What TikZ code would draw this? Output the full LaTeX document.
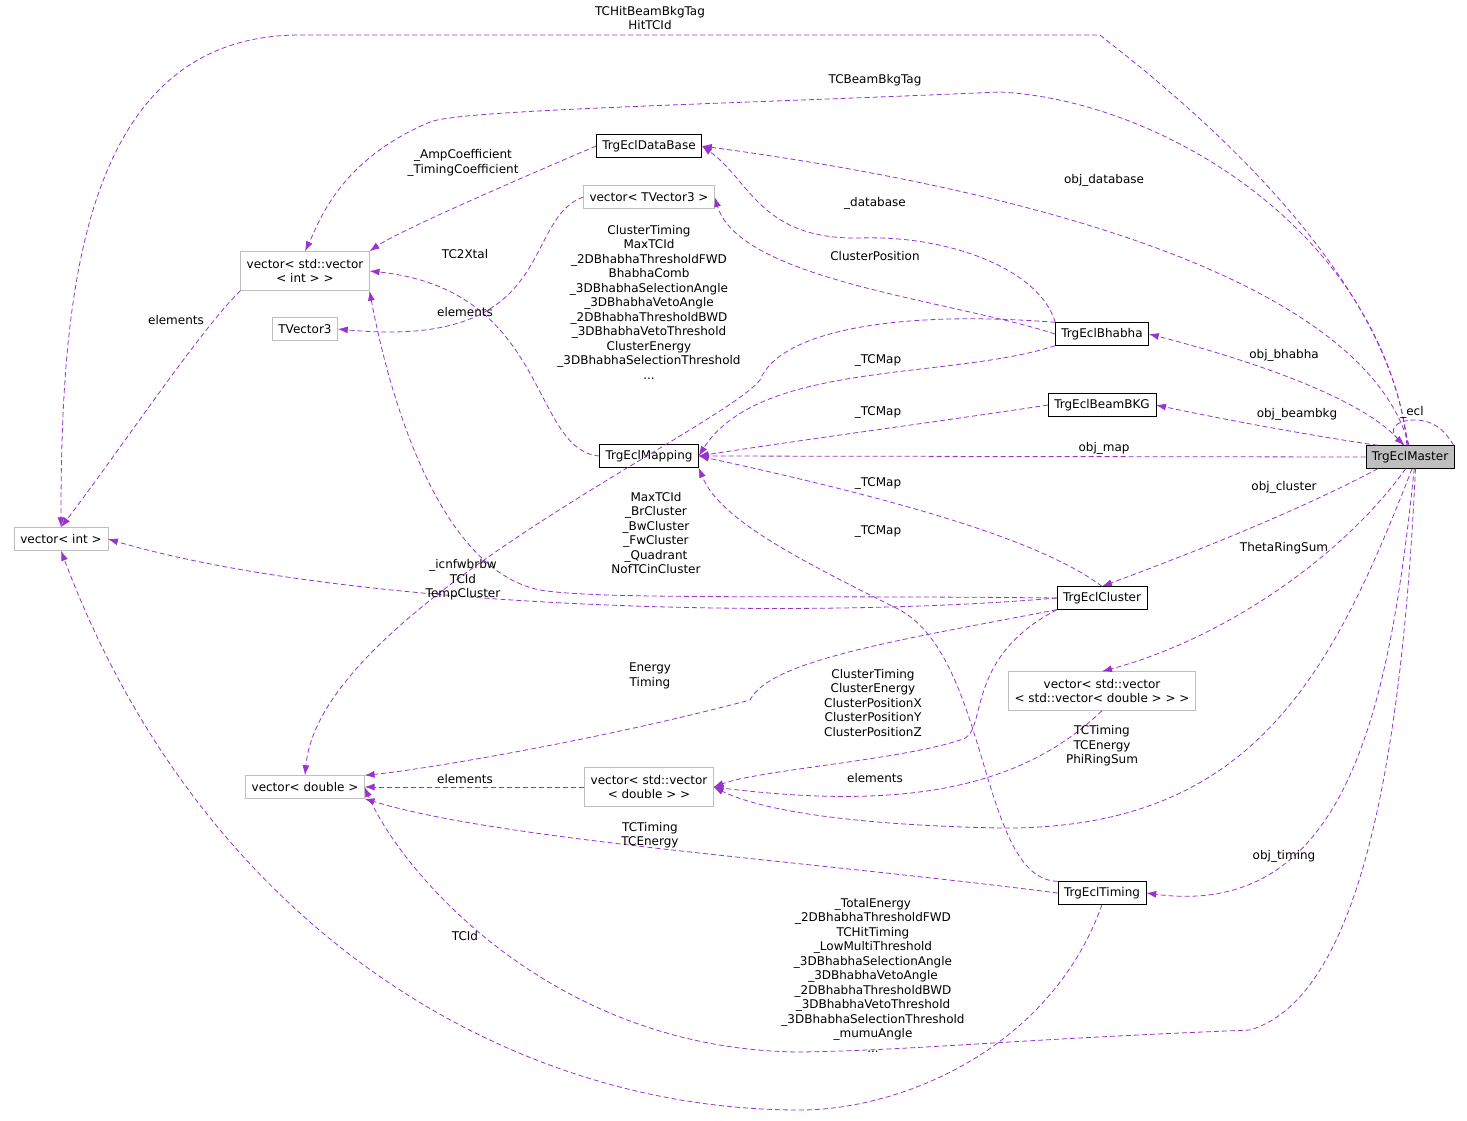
\documentclass[tikz,border=0pt]{standalone}
\usepackage{fontspec}
\setmainfont{DejaVu Sans}
\usetikzlibrary{arrows.meta}
\definecolor{edgecol}{HTML}{9A32CD}
\definecolor{greybd}{HTML}{BFBFBF}
\begin{document}
\begin{tikzpicture}[x=1pt,y=-1pt,
  font=\fontsize{12}{14.5}\selectfont,
  cls/.style={draw=black,rectangle,inner xsep=6pt,inner ysep=0pt,minimum height=23pt,align=center,fill=white},
  ext/.style={cls,draw=greybd},
  rel/.style={draw=edgecol,dashed,dash pattern=on 5pt off 3pt,line width=0.8pt,-{Latex[length=10pt,width=7pt]}},
  lab/.style={align=center,inner sep=0pt}
]
\useasboundingbox (0,0) rectangle (1467,1120);

% The classes
\node[cls,fill=greybd] (master) at (1410,457) {TrgEclMaster};
\node[cls] (database) at (649,146) {TrgEclDataBase};
\node[ext] (vtv3) at (649,197) {vector< TVector3 >};
\node[ext,minimum height=39pt] (vvint) at (305,271) {vector< std::vector\\< int > >};
\node[ext] (tv3) at (305,329) {TVector3};
\node[cls] (bhabha) at (1102,334) {TrgEclBhabha};
\node[cls] (beambkg) at (1102,405) {TrgEclBeamBKG};
\node[cls] (mapping) at (649,456) {TrgEclMapping};
\node[ext] (vint) at (61,539) {vector< int >};
\node[cls] (cluster) at (1102,598) {TrgEclCluster};
\node[ext,minimum height=39pt] (vvvdbl) at (1102,691) {vector< std::vector\\< std::vector< double > > >};
\node[ext] (vdbl) at (305,787) {vector< double >};
\node[ext,minimum height=39pt] (vvdbl) at (649,787) {vector< std::vector\\< double > >};
\node[cls] (timing) at (1102,893) {TrgEclTiming};

% The relations of TrgEclMaster
\draw[rel] (master.105) .. controls (1390,250) and (1130,60) .. (1100,35) -- (300,35) .. controls (80,35) and (61,300) .. (vint.north);
\draw[rel] (master.100) .. controls (1380,230) and (1160,100) .. (1000,92) .. controls (700,105) and (460,110) .. (430,122) .. controls (340,160) and (320,220) .. (vvint.north);
\draw[rel] (master.95) .. controls (1370,300) and (1100,200) .. (database.east);
\draw[rel] (master.120) .. controls (1370,400) and (1250,360) .. (bhabha.east);
\draw[rel] (master.160) .. controls (1340,440) and (1250,425) .. (beambkg.east);
\draw[rel] (master.west) -- (mapping.east);
\draw[rel] (master.200) .. controls (1300,510) and (1200,550) .. (cluster.north);
\draw[rel] (master.250) .. controls (1340,560) and (1220,640) .. (vvvdbl.north);
\draw[rel] (master.280) .. controls (1330,680) and (1250,830) .. (1000,828) .. controls (850,825) and (760,810) .. (vvdbl.east);
\draw[rel] (master.290) .. controls (1390,700) and (1350,920) .. (timing.east);
\draw[rel] (master.295) .. controls (1400,800) and (1350,1000) .. (1250,1030) .. controls (1000,1040) and (920,1050) .. (800,1052) .. controls (550,1050) and (400,870) .. (vdbl.east);
\draw[rel] (master.15) .. controls (1450,440) and (1440,420) .. (1415,420) .. controls (1395,420) and (1388,430) .. (master.115);

% The other relations
\draw[rel] (database.west) .. controls (540,170) and (400,230) .. (vvint.north east);
\draw[rel] (vtv3.west) .. controls (520,220) and (560,350) .. (tv3.east);
\draw[rel] (vvint.south west) .. controls (200,330) and (120,450) .. (vint.north);
\draw[rel] (bhabha.north west) .. controls (1040,270) and (950,235) .. (860,238) .. controls (760,240) and (750,180) .. (database.east);
\draw[rel] (bhabha.west) .. controls (950,300) and (740,280) .. (vtv3.east);
\draw[rel] (bhabha.north west) .. controls (900,310) and (780,330) .. (760,380) .. controls (720,430) and (320,610) .. (vdbl.north);
\draw[rel] (bhabha.south west) .. controls (950,380) and (760,360) .. (mapping.east);
\draw[rel] (beambkg.west) .. controls (950,420) and (800,440) .. (mapping.east);
\draw[rel] (mapping.west) .. controls (530,450) and (550,290) .. (vvint.east);
\draw[rel] (cluster.north) .. controls (1040,540) and (900,500) .. (mapping.east);
\draw[rel] (timing.north west) .. controls (980,880) and (990,660) .. (900,610) .. controls (800,560) and (720,520) .. (mapping.south east);
\draw[rel] (cluster.west) .. controls (800,620) and (350,610) .. (vint.east);
\draw[rel] (cluster.west) .. controls (800,595) and (600,600) .. (540,590) .. controls (440,570) and (390,400) .. (vvint.south east);
\draw[rel] (cluster.south west) .. controls (900,640) and (770,660) .. (750,700) .. controls (600,740) and (420,770) .. (vdbl.north east);
\draw[rel] (cluster.south west) .. controls (960,660) and (990,735) .. (960,740) .. controls (900,760) and (760,770) .. (vvdbl.east);
\draw[rel] (vvvdbl.south) .. controls (1020,790) and (900,810) .. (vvdbl.east);
\draw[rel] (vvdbl.west) -- (vdbl.east);
\draw[rel] (timing.west) .. controls (800,860) and (500,840) .. (vdbl.south east);
\draw[rel] (timing.south) .. controls (1050,1050) and (900,1110) .. (800,1110) .. controls (500,1110) and (200,920) .. (vint.south);

% The labels
\node[lab] (l1) at (650,18) {TCHitBeamBkgTag\\HitTCId};
\node[lab] (l2) at (875,80) {TCBeamBkgTag};
\node[lab] (l3) at (1104,180) {obj\_database};
\node[lab] (l4) at (1284,355) {obj\_bhabha};
\node[lab] (l5) at (1297,414) {obj\_beambkg};
\node[lab] (l6) at (1104,448) {obj\_map};
\node[lab] (l7) at (1284,487) {obj\_cluster};
\node[lab] (l8) at (1284,548) {ThetaRingSum};
\node[lab] (l9) at (1102,746) {TCTiming\\TCEnergy\\PhiRingSum};
\node[lab] (l10) at (1284,856) {obj\_timing};
\node[lab] (l11) at (873,975) {\_TotalEnergy\\\_2DBhabhaThresholdFWD\\TCHitTiming\\\_LowMultiThreshold\\\_3DBhabhaSelectionAngle\\\_3DBhabhaVetoAngle\\\_2DBhabhaThresholdBWD\\\_3DBhabhaVetoThreshold\\\_3DBhabhaSelectionThreshold\\\_mumuAngle\\...};
\node[lab] (l12) at (1412,412) {\_ecl};
\node[lab] (l13) at (463,163) {\_AmpCoefficient\\\_TimingCoefficient};
\node[lab] (l14) at (465,312) {elements};
\node[lab] (l15) at (176,320) {elements};
\node[lab] (l16) at (875,203) {\_database};
\node[lab] (l17) at (875,256) {ClusterPosition};
\node[lab] (l18) at (649,302) {ClusterTiming\\MaxTCId\\\_2DBhabhaThresholdFWD\\BhabhaComb\\\_3DBhabhaSelectionAngle\\\_3DBhabhaVetoAngle\\\_2DBhabhaThresholdBWD\\\_3DBhabhaVetoThreshold\\ClusterEnergy\\\_3DBhabhaSelectionThreshold\\...};
\node[lab] (l19) at (878,360) {\_TCMap};
\node[lab] (l20) at (878,412) {\_TCMap};
\node[lab] (l21) at (465,254) {TC2Xtal};
\node[lab] (l22) at (878,483) {\_TCMap};
\node[lab] (l23) at (878,531) {\_TCMap};
\node[lab] (l24) at (463,580) {\_icnfwbrbw\\TCId\\TempCluster};
\node[lab] (l25) at (656,533) {MaxTCId\\\_BrCluster\\\_BwCluster\\\_FwCluster\\\_Quadrant\\NofTCinCluster};
\node[lab] (l26) at (650,676) {Energy\\Timing};
\node[lab] (l27) at (873,703) {ClusterTiming\\ClusterEnergy\\ClusterPositionX\\ClusterPositionY\\ClusterPositionZ};
\node[lab] (l28) at (875,778) {elements};
\node[lab] (l29) at (465,779) {elements};
\node[lab] (l30) at (650,835) {TCTiming\\TCEnergy};
\node[lab] (l31) at (465,936) {TCId};
\end{tikzpicture}
\end{document}
